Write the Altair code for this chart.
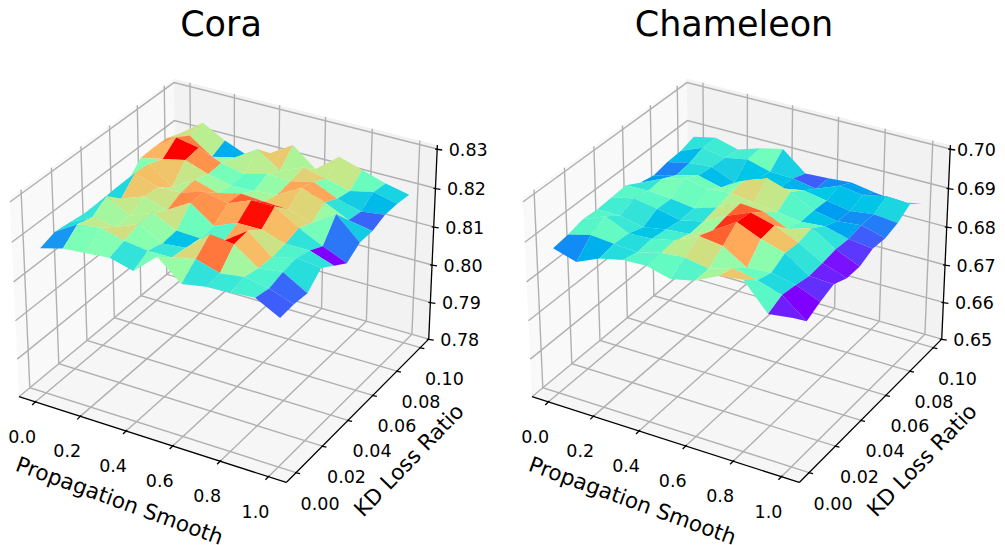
import numpy as np
import altair as alt

xs_vals = [0.0,0.1,0.2,0.3,0.4,0.5,0.6,0.7,0.8,0.9,1.0]
ys_vals = [0.00,0.01,0.02,0.03,0.04,0.05,0.06,0.07,0.08,0.09,0.10]
x_ticks = [0.0,0.2,0.4,0.6,0.8,1.0]
y_ticks = [0.00,0.02,0.04,0.06,0.08,0.10]
z_ticks_1 = [0.78,0.79,0.80,0.81,0.82,0.83]
z_ticks_2 = [0.65,0.66,0.67,0.68,0.69,0.70]

# rows: KD Loss Ratio (y), columns: Propagation Smooth (x)
Z1 = [
 [.8176,.8192,.8197,.8203,.8187,.8239,.8189,.8200,.8203,.8208,.8176],
 [.8189,.8224,.8232,.8216,.8208,.8208,.8221,.8203,.8211,.8200,.8179],
 [.8184,.8213,.8205,.8229,.8197,.8203,.8253,.8245,.8203,.8211,.8176],
 [.8179,.8239,.8205,.8229,.8200,.8197,.8208,.8250,.8200,.8216,.8208],
 [.8179,.8205,.8226,.8208,.8242,.8200,.8224,.8224,.8205,.8205,.8184],
 [.8182,.8242,.8221,.8224,.8242,.8229,.8253,.8253,.8216,.8187,.8161],
 [.8174,.8239,.8195,.8229,.8211,.8226,.8221,.8218,.8200,.8239,.8184],
 [.8211,.8224,.8237,.8216,.8203,.8205,.8211,.8245,.8224,.8195,.8184],
 [.8213,.8253,.8242,.8218,.8205,.8221,.8218,.8232,.8205,.8189,.8197],
 [.8211,.8232,.8192,.8205,.8242,.8203,.8226,.8213,.8197,.8211,.8197],
 [.8197,.8239,.8208,.8184,.8205,.8242,.8195,.8242,.8224,.8205,.8192],
]
Z2 = [
 [.6876,.6858,.6884,.6897,.6900,.6884,.6897,.6926,.6934,.6868,.6876],
 [.6882,.6897,.6892,.6887,.6903,.6908,.6897,.6916,.6903,.6884,.6837],
 [.6892,.6916,.6889,.6892,.6905,.6932,.6924,.6887,.6892,.6879,.6855],
 [.6889,.6889,.6876,.6887,.6892,.6918,.6955,.6929,.6911,.6871,.6868],
 [.6892,.6905,.6895,.6882,.6895,.6926,.6950,.6934,.6908,.6874,.6853],
 [.6895,.6897,.6892,.6884,.6903,.6929,.6924,.6897,.6916,.6879,.6853],
 [.6874,.6900,.6918,.6905,.6911,.6903,.6895,.6887,.6892,.6876,.6868],
 [.6866,.6882,.6897,.6882,.6916,.6937,.6918,.6887,.6876,.6882,.6866],
 [.6874,.6887,.6892,.6868,.6892,.6884,.6895,.6884,.6874,.6882,.6876],
 [.6876,.6900,.6889,.6900,.6884,.6882,.6871,.6895,.6887,.6900,.6897],
 [.6887,.6900,.6884,.6903,.6916,.6868,.6871,.6876,.6866,.6858,.6868],
]

FONT = "DejaVu Sans"
ASPECT = np.array([4,4,3])/np.linalg.norm([4,4,3])*1.8294640721620434
elev, azim = np.radians(30), np.radians(-60)
dist = 10.0
R = ASPECT/2
E = R + dist*np.array([np.cos(elev)*np.cos(azim), np.cos(elev)*np.sin(azim), np.sin(elev)])
n = (E-R)/np.linalg.norm(E-R)
u = np.cross([0,0,1.0], n); u /= np.linalg.norm(u)
v = np.cross(n,u)

def view(fr):
    p = np.asarray(fr,float)*ASPECT - E
    xv,yv,zv = p@u, p@v, p@n
    w = -zv
    return xv/w, yv/w, -10.0/w

cal_fr = [(0,0,0),(1,0,0),(1,1,0),(1,1,1),(0,1,1),(0,0,1)]
cal_px = [(19,397),(287,484),(429,336),(437,143),(173,80),(10,200)]
PX = np.array([view(f)[:2] for f in cal_fr])
PP = np.array(cal_px,float)
ax_fit = np.linalg.lstsq(np.c_[PX[:,0],np.ones(6)],PP[:,0],rcond=None)[0]
ay_fit = np.linalg.lstsq(np.c_[PX[:,1],np.ones(6)],PP[:,1],rcond=None)[0]
XB=(-0.073,1.073); YB=(-0.0073,0.1073); ZSPAN=0.051

def to_px(a,b,c,shift):
    X,Y,D=view((a,b,c))
    return float(ax_fit[0]*X+ax_fit[1]+shift-8), float(ay_fit[0]*Y+ay_fit[1]-8), float(D)

def fx(x): return (x-XB[0])/(XB[1]-XB[0])
def fy(y): return (y-YB[0])/(YB[1]-YB[0])

def line(coords,**p): return {"type":"Feature","properties":p,"geometry":{"type":"LineString","coordinates":coords}}
def poly(coords,**p): return {"type":"Feature","properties":p,"geometry":{"type":"Polygon","coordinates":[coords+[coords[0]]]}}

PROJ=dict(type="identity",scale=1,translate=[0,0])

def panel(Z, zt, shift, title):
    zlo=zt[0]
    fz=lambda z:(z-zlo)/ZSPAN
    P=lambda a,b,c:list(to_px(a,b,c,shift)[:2])
    panes=[
     ([(0,0,0),(0,1,0),(0,1,1),(0,0,1)],"#f9f9f9"),
     ([(0,1,0),(1,1,0),(1,1,1),(0,1,1)],"#f2f2f2"),
     ([(0,0,0),(1,0,0),(1,1,0),(0,1,0)],"#f6f6f6"),
    ]
    pane_f=[poly([P(*q) for q in pts],c=c) for pts,c in panes]
    grid=[]
    for x in x_ticks:
        a=fx(x); grid.append(line([P(a,0,0),P(a,1,0),P(a,1,1)]))
    for y in y_ticks:
        b=fy(y); grid.append(line([P(0,b,1),P(0,b,0),P(1,b,0)]))
    for z in zt:
        c=fz(z); grid.append(line([P(0,0,c),P(0,1,c),P(1,1,c)]))
    axes=[line([P(0,0,0),P(1,0,0)]),line([P(1,0,0),P(1,1,0)]),line([P(1,1,0),P(1,1,1)])]
    ticks=[]; texts=[]
    for x in x_ticks:
        p=P(fx(x),0,0)
        ticks.append(line([[p[0]+1,p[1]-1],[p[0]-3,p[1]+3]]))
        texts.append(dict(lon=p[0]-13,lat=p[1]+36,t=f"{x:.1f}"))
    for y in y_ticks:
        p=P(1,fy(y),0)
        ticks.append(line([[p[0]-1,p[1]],[p[0]+4,p[1]+1]]))
        texts.append(dict(lon=p[0]+24,lat=p[1]+32,t=f"{y:.2f}"))
    for z in zt:
        p=P(1,1,fz(z))
        ticks.append(line([[p[0]-2,p[1]],[p[0]+5,p[1]+1]]))
        texts.append(dict(lon=min(p[0]+31,968.5),lat=p[1]+2,t=f"{z:.2f}"))
    Z=np.array(Z)
    faces=[]
    for i in range(10):
        for j in range(10):
            idx=[(j,i),(j,i+1),(j+1,i+1),(j+1,i)]
            pts=[to_px(fx(xs_vals[b]),fy(ys_vals[a]),fz(Z[a,b]),shift) for a,b in idx]
            d=np.mean([p[2] for p in pts])
            faces.append((d,poly([[p[0],p[1]] for p in pts],z=float(np.mean([Z[a,b] for a,b in idx])))))
    faces.sort(key=lambda t:-t[0])
    faces=[f for _,f in faces]
    zs=[f["properties"]["z"] for f in faces]
    zmin,zmax=min(zs),max(zs)
    ts=np.linspace(0,1,21)
    rng=[]
    for t in ts:
        r=min(1,abs(2*t-.5)); g=np.sin(np.pi*t); b=np.cos(np.pi*t/2)
        rng.append("#%02x%02x%02x"%(int(r*255),int(g*255),int(b*255)))
    dom=[float(zmin+(zmax-zmin)*t) for t in ts]
    L=[
     alt.Chart(alt.Data(values=pane_f)).mark_geoshape(strokeWidth=0).encode(fill=alt.Color("properties.c:N",scale=None)).project(**PROJ),
     alt.Chart(alt.Data(values=grid)).mark_geoshape(filled=False,stroke="#b0b0b0",strokeWidth=1.4).project(**PROJ),
     alt.Chart(alt.Data(values=axes+ticks)).mark_geoshape(filled=False,stroke="#000000",strokeWidth=1.3).project(**PROJ),
     alt.Chart(alt.Data(values=faces)).mark_geoshape(strokeWidth=0).encode(fill=alt.Color("properties.z:Q",scale=alt.Scale(domain=dom,range=rng),legend=None)).project(**PROJ),
     alt.Chart(alt.Data(values=texts)).mark_text(font=FONT,fontSize=17.5,color="#000000").encode(longitude="lon:Q",latitude="lat:Q",text="t:N").project(**PROJ),
    ]
    def lab(txt,cx,cy,size,ang):
        return alt.Chart(alt.Data(values=[dict(lon=cx+shift-8,lat=cy-8,t=txt)])).mark_text(font=FONT,fontSize=size,angle=ang,color="#000000").encode(longitude="lon:Q",latitude="lat:Q",text="t:N").project(**PROJ)
    L.append(lab(title,221,25,35,0))
    L.append(lab("Propagation Smooth",119,502,21.5,20))
    L.append(lab("KD Loss Ratio",410,461,21.5,314))
    return L

L1=panel(Z1,z_ticks_1,0,"Cora")
L2=panel(Z2,z_ticks_2,513,"Chameleon")
chart=(alt.layer(*(L1+L2)).resolve_scale(fill="independent")
       .properties(width=989,height=537,padding=0,autosize=alt.AutoSizeParams(type="none"))
       .configure_view(stroke=None))
chart.save("out.html",embed_options={"renderer":"svg","actions":False})
